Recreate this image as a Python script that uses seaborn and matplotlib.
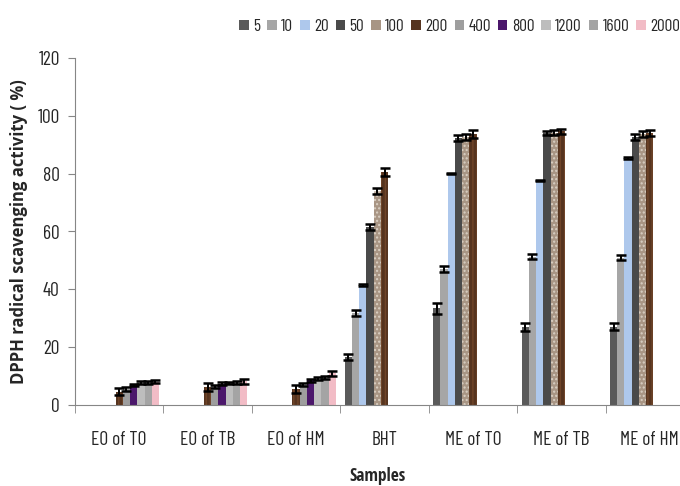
import numpy as np
import pandas as pd
import seaborn as sns
import matplotlib.pyplot as plt

samples = ["EO of TO", "EO of TB", "EO of HM", "BHT", "ME of TO", "ME of TB", "ME of HM"]
concs = ["5", "10", "20", "50", "100", "200", "400", "800", "1200", "1600", "2000"]

# essential oils were tested at 200-2000, BHT and methanol extracts at 5-200
eo_concs = ["200", "400", "800", "1200", "1600", "2000"]
me_concs = ["5", "10", "20", "50", "100", "200"]

eo_to = [4.6, 5.5, 6.9, 7.8, 7.8, 8.1]
eo_tb = [6.2, 6.5, 7.3, 7.6, 7.9, 8.2]
eo_hm = [5.5, 7.0, 8.6, 9.2, 9.6, 11.0]
bht = [16.7, 31.7, 41.5, 61.5, 74.0, 80.5]
me_to = [33.4, 47.0, 80.2, 92.3, 92.8, 93.8]
me_tb = [26.9, 51.3, 77.6, 94.0, 94.2, 94.6]
me_hm = [27.1, 51.0, 85.4, 92.8, 93.8, 94.0]

eo_to_err = [1.2, 0.6, 0.5, 0.5, 0.5, 0.5]
eo_tb_err = [1.5, 0.5, 0.5, 0.5, 0.5, 0.8]
eo_hm_err = [1.3, 0.5, 0.5, 0.6, 0.6, 0.8]
bht_err = [1.0, 1.0, 0.3, 1.0, 1.0, 1.3]
me_to_err = [1.8, 0.9, 0.2, 1.0, 1.0, 1.3]
me_tb_err = [1.3, 0.8, 0.2, 0.8, 0.8, 1.0]
me_hm_err = [1.3, 0.8, 0.2, 1.0, 1.0, 1.0]

colors = ["#5a5a5a", "#a6a6a6", "#aec8ec", "#4a4a4a", "#a89584", "#56341f",
          "#9e9e9e", "#4b176b", "#bdbdbd", "#a4a4a4", "#f2bcc6"]

rows = []
for s, cs, vals, errs in [
        (samples[0], eo_concs, eo_to, eo_to_err),
        (samples[1], eo_concs, eo_tb, eo_tb_err),
        (samples[2], eo_concs, eo_hm, eo_hm_err),
        (samples[3], me_concs, bht, bht_err),
        (samples[4], me_concs, me_to, me_to_err),
        (samples[5], me_concs, me_tb, me_tb_err),
        (samples[6], me_concs, me_hm, me_hm_err)]:
    for c, v, e in zip(cs, vals, errs):
        rows.append({"sample": s, "conc": c, "value": v, "err": e})
df = pd.DataFrame(rows)

sns.set_style("white")
plt.rcParams["font.family"] = ["Barlow Condensed", "DejaVu Sans"]

fig = plt.figure(figsize=(6.8, 4.86), dpi=100)
ax = fig.add_axes([75 / 680, 1 - 405 / 486, 1 - 75 / 680, (405 - 58) / 486])

sns.barplot(data=df, x="sample", y="value", hue="conc", order=samples,
            hue_order=concs, palette=colors, width=0.9, errorbar=None,
            saturation=1, linewidth=0, ax=ax)

# texture-ish fills for 100 and 200
for bar in ax.containers[concs.index("100")]:
    bar.set_hatch("....")
    bar.set_edgecolor("#d9cfc3")
    bar.set_linewidth(0)
for bar in ax.containers[concs.index("200")]:
    bar.set_hatch("||||")
    bar.set_edgecolor("#704529")
    bar.set_linewidth(0)

# error bars
for c, cont in zip(concs, ax.containers):
    for bar in cont:
        xc = bar.get_x() + bar.get_width() / 2
        s = samples[int(round(xc))]
        r = df[(df["sample"] == s) & (df["conc"] == c)]
        if len(r) == 0:
            continue
        ax.errorbar(xc, r["value"].iloc[0], yerr=r["err"].iloc[0], color="black",
                    capsize=3.5, elinewidth=1.4, capthick=1.8, fmt="none")

ax.set_yticks(range(0, 121, 20))
ax.set_xticks(np.arange(-0.5, 6.6, 1), minor=True)
ax.set_ylim(0, 120)
ax.set_xlim(-0.5, 6.5 - 14 / 88.4)
ax.tick_params(axis="x", which="major", length=0, pad=19, labelsize=14)
ax.tick_params(axis="x", which="minor", length=6, color="#868686", direction="out", bottom=True)
ax.tick_params(axis="y", length=5, color="#868686", direction="out", left=True, labelsize=14, pad=6)
for side in ["top", "right"]:
    ax.spines[side].set_visible(False)
for side in ["left", "bottom"]:
    ax.spines[side].set_color("#868686")

ax.set_xlabel("Samples", fontsize=12.5, fontweight="bold",
              family=["Open Sans Condensed", "DejaVu Sans"], labelpad=13)
ax.set_ylabel("DPPH radical scavenging activity ( %)", fontsize=12, fontweight="bold",
              family=["Open Sans", "DejaVu Sans"], labelpad=7)

handles, labels = ax.get_legend_handles_labels()
ax.get_legend().remove()
fig.legend(handles, labels, loc="center", bbox_to_anchor=(0.676, 0.945), ncol=11,
           frameon=False, fontsize=12.5, handlelength=0.55, handleheight=0.55,
           handletextpad=0.25, columnspacing=0.4, borderaxespad=0)

fig.savefig("out.png", dpi=100)
